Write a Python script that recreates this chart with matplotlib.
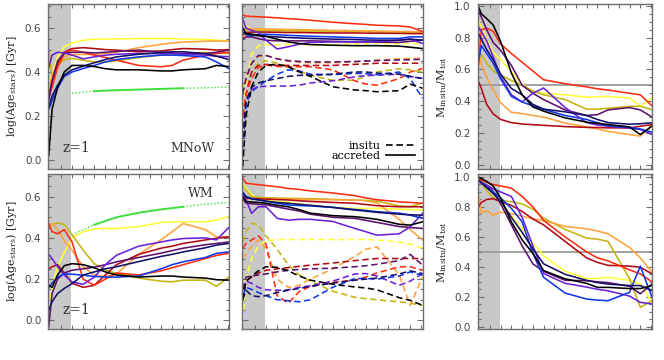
import matplotlib
matplotlib.use('Agg')
import matplotlib.pyplot as plt
from matplotlib.ticker import MultipleLocator, NullFormatter, FixedLocator
from matplotlib.lines import Line2D

# ---------------- data ----------------
time_gyr = [4.95, 5.1, 5.35, 5.65, 6.0, 6.5, 7.0, 7.5, 8.0, 9.0, 10.0, 10.5, 11.0, 12.0, 12.5, 13.05]
z1_time = 5.97
xlim = (4.93, 13.06)

green_time = [6.0, 6.5, 7.0, 8.0, 9.0, 10.0, 11.0, 12.0, 13.05]
green_top = [0.303, 0.308, 0.313, 0.317, 0.32, 0.323, 0.326, 0.328, 0.331]
green_bot = [0.415, 0.44, 0.464, 0.50, 0.522, 0.538, 0.551, 0.563, 0.572]

colors = {
    'black': '#000000', 'navy': '#14106a', 'blue': '#1238e6', 'violet': '#6a22d8',
    'purple': '#5c106e', 'darkred': '#b00a14', 'red': '#ff2c10', 'orange': '#ffa23c',
    'olive': '#c4b410', 'yellow': '#ffff38',
}
draw_order = ['yellow', 'olive', 'orange', 'darkred', 'red', 'purple', 'violet', 'blue', 'navy', 'black']

# top row: MNoW
age_all_top = {
    'black':   [0.02, 0.23, 0.33, 0.40, 0.43, 0.43, 0.425, 0.415, 0.41, 0.41, 0.405, 0.405, 0.41, 0.415, 0.43, 0.425],
    'yellow':  [0.355, 0.39, 0.47, 0.515, 0.532, 0.545, 0.549, 0.55, 0.551, 0.552, 0.552, 0.552, 0.55, 0.548, 0.545, 0.542],
    'orange':  [0.33, 0.38, 0.44, 0.47, 0.48, 0.48, 0.48, 0.484, 0.49, 0.511, 0.526, 0.532, 0.537, 0.54, 0.541, 0.541],
    'red':     [0.29, 0.33, 0.42, 0.485, 0.50, 0.49, 0.477, 0.466, 0.454, 0.43, 0.424, 0.43, 0.454, 0.477, 0.484, 0.49],
    'darkred': [0.30, 0.35, 0.44, 0.49, 0.507, 0.511, 0.507, 0.502, 0.50, 0.492, 0.496, 0.502, 0.507, 0.504, 0.50, 0.502],
    'purple':  [0.27, 0.36, 0.45, 0.485, 0.49, 0.49, 0.487, 0.49, 0.494, 0.50, 0.49, 0.487, 0.484, 0.484, 0.49, 0.50],
    'violet':  [0.42, 0.477, 0.49, 0.487, 0.477, 0.46, 0.469, 0.477, 0.481, 0.484, 0.484, 0.484, 0.481, 0.477, 0.472, 0.47],
    'olive':   [0.50, 0.38, 0.43, 0.457, 0.462, 0.454, 0.446, 0.446, 0.451, 0.466, 0.477, 0.481, 0.484, 0.489, 0.487, 0.484],
    'blue':    [0.23, 0.27, 0.326, 0.38, 0.40, 0.416, 0.43, 0.446, 0.457, 0.469, 0.477, 0.477, 0.475, 0.469, 0.446, 0.416],
    'navy':    [0.24, 0.29, 0.34, 0.386, 0.41, 0.427, 0.442, 0.457, 0.469, 0.481, 0.489, 0.492, 0.492, 0.484, 0.472, 0.457],
}
age_acc_top = {
    'red':     [0.66, 0.655, 0.653, 0.652, 0.65, 0.647, 0.643, 0.64, 0.636, 0.627, 0.62, 0.617, 0.613, 0.61, 0.605, 0.585],
    'orange':  [0.55, 0.59, 0.597, 0.597, 0.596, 0.595, 0.594, 0.593, 0.592, 0.59, 0.588, 0.587, 0.586, 0.585, 0.584, 0.582],
    'yellow':  [0.62, 0.61, 0.595, 0.592, 0.591, 0.59, 0.59, 0.589, 0.589, 0.588, 0.586, 0.585, 0.584, 0.582, 0.578, 0.574],
    'olive':   [0.58, 0.60, 0.594, 0.59, 0.589, 0.588, 0.588, 0.587, 0.587, 0.586, 0.585, 0.585, 0.584, 0.583, 0.58, 0.578],
    'darkred': [0.57, 0.58, 0.582, 0.582, 0.582, 0.581, 0.58, 0.58, 0.579, 0.578, 0.578, 0.577, 0.577, 0.576, 0.575, 0.575],
    'blue':    [0.60, 0.57, 0.565, 0.57, 0.572, 0.57, 0.567, 0.565, 0.563, 0.56, 0.557, 0.555, 0.553, 0.553, 0.56, 0.56],
    'navy':    [0.58, 0.575, 0.57, 0.565, 0.563, 0.56, 0.557, 0.555, 0.553, 0.55, 0.548, 0.546, 0.545, 0.545, 0.55, 0.545],
    'violet':  [0.64, 0.60, 0.59, 0.58, 0.545, 0.505, 0.515, 0.527, 0.535, 0.537, 0.537, 0.537, 0.537, 0.545, 0.55, 0.53],
    'purple':  [0.55, 0.56, 0.56, 0.552, 0.545, 0.542, 0.542, 0.542, 0.542, 0.54, 0.537, 0.537, 0.536, 0.535, 0.54, 0.545],
    'black':   [0.60, 0.575, 0.572, 0.568, 0.562, 0.55, 0.537, 0.53, 0.525, 0.522, 0.52, 0.52, 0.52, 0.518, 0.513, 0.507],
}
age_ins_top = {
    'black':   [-0.03, 0.20, 0.333, 0.40, 0.43, 0.436, 0.424, 0.40, 0.38, 0.333, 0.318, 0.315, 0.31, 0.315, 0.345, 0.326],
    'red':     [0.20, 0.30, 0.37, 0.42, 0.432, 0.425, 0.424, 0.424, 0.424, 0.41, 0.36, 0.345, 0.34, 0.37, 0.40, 0.416],
    'orange':  [0.30, 0.38, 0.44, 0.47, 0.477, 0.46, 0.448, 0.444, 0.442, 0.442, 0.446, 0.45, 0.455, 0.46, 0.462, 0.462],
    'purple':  [0.30, 0.37, 0.44, 0.475, 0.475, 0.46, 0.452, 0.448, 0.446, 0.446, 0.448, 0.45, 0.452, 0.455, 0.456, 0.458],
    'olive':   [0.20, 0.30, 0.40, 0.44, 0.452, 0.44, 0.424, 0.405, 0.385, 0.362, 0.363, 0.38, 0.40, 0.415, 0.41, 0.40],
    'yellow':  [0.20, 0.35, 0.48, 0.52, 0.525, 0.525, 0.525, 0.525, 0.525, 0.525, 0.528, 0.528, 0.53, 0.53, 0.53, 0.53],
    'blue':    [0.10, 0.27, 0.31, 0.335, 0.36, 0.39, 0.41, 0.405, 0.39, 0.388, 0.394, 0.392, 0.388, 0.40, 0.37, 0.28],
    'violet':  [0.05, 0.25, 0.32, 0.333, 0.335, 0.336, 0.336, 0.34, 0.35, 0.36, 0.378, 0.383, 0.386, 0.39, 0.38, 0.371],
    'navy':    [0.10, 0.27, 0.33, 0.35, 0.36, 0.37, 0.38, 0.385, 0.385, 0.39, 0.40, 0.40, 0.395, 0.39, 0.38, 0.37],
    'darkred': [0.20, 0.30, 0.40, 0.43, 0.435, 0.43, 0.43, 0.43, 0.43, 0.43, 0.435, 0.437, 0.44, 0.44, 0.44, 0.44],
}
frac_top = {
    'black':   [1.0, 0.95, 0.92, 0.88, 0.775, 0.577, 0.44, 0.364, 0.337, 0.295, 0.268, 0.26, 0.253, 0.238, 0.19, 0.243],
    'red':     [0.60, 0.85, 0.86, 0.84, 0.76, 0.70, 0.645, 0.59, 0.535, 0.51, 0.49, 0.478, 0.47, 0.45, 0.44, 0.37],
    'darkred': [0.53, 0.48, 0.38, 0.32, 0.285, 0.265, 0.256, 0.252, 0.248, 0.24, 0.235, 0.234, 0.232, 0.232, 0.242, 0.253],
    'orange':  [0.72, 0.63, 0.55, 0.47, 0.39, 0.33, 0.322, 0.31, 0.30, 0.262, 0.238, 0.225, 0.21, 0.19, 0.18, 0.25],
    'yellow':  [0.91, 0.87, 0.79, 0.71, 0.66, 0.585, 0.505, 0.462, 0.45, 0.44, 0.425, 0.428, 0.43, 0.42, 0.37, 0.42],
    'olive':   [0.64, 0.69, 0.64, 0.59, 0.565, 0.53, 0.50, 0.465, 0.44, 0.41, 0.35, 0.35, 0.355, 0.368, 0.368, 0.347],
    'purple':  [0.975, 0.93, 0.85, 0.77, 0.72, 0.625, 0.50, 0.45, 0.41, 0.345, 0.31, 0.315, 0.345, 0.36, 0.345, 0.30],
    'violet':  [0.87, 0.84, 0.78, 0.68, 0.555, 0.44, 0.395, 0.45, 0.483, 0.36, 0.265, 0.25, 0.243, 0.23, 0.222, 0.19],
    'blue':    [0.64, 0.75, 0.70, 0.64, 0.54, 0.43, 0.395, 0.37, 0.348, 0.31, 0.285, 0.265, 0.245, 0.235, 0.225, 0.205],
    'navy':    [0.83, 0.79, 0.724, 0.66, 0.57, 0.48, 0.44, 0.38, 0.35, 0.333, 0.31, 0.285, 0.265, 0.255, 0.258, 0.264],
}

# bottom row: WM
age_all_bot = {
    'yellow':  [0.05, 0.15, 0.26, 0.33, 0.40, 0.43, 0.443, 0.446, 0.446, 0.455, 0.475, 0.478, 0.478, 0.478, 0.487, 0.503],
    'orange':  [0.45, 0.47, 0.44, 0.385, 0.34, 0.26, 0.22, 0.212, 0.225, 0.32, 0.39, 0.43, 0.47, 0.44, 0.405, 0.405],
    'olive':   [0.45, 0.465, 0.472, 0.465, 0.415, 0.34, 0.275, 0.245, 0.227, 0.205, 0.19, 0.187, 0.195, 0.195, 0.165, 0.21],
    'red':     [0.47, 0.43, 0.42, 0.44, 0.38, 0.20, 0.17, 0.20, 0.23, 0.22, 0.24, 0.255, 0.27, 0.30, 0.315, 0.325],
    'darkred': [0.25, 0.26, 0.27, 0.23, 0.18, 0.16, 0.17, 0.22, 0.27, 0.32, 0.35, 0.36, 0.373, 0.39, 0.398, 0.405],
    'violet':  [0.32, 0.30, 0.26, 0.22, 0.186, 0.175, 0.21, 0.27, 0.316, 0.36, 0.38, 0.39, 0.397, 0.40, 0.39, 0.45],
    'purple':  [-0.03, 0.13, 0.20, 0.23, 0.243, 0.25, 0.258, 0.27, 0.284, 0.305, 0.326, 0.338, 0.35, 0.367, 0.373, 0.38],
    'black':   [0.17, 0.16, 0.22, 0.265, 0.275, 0.27, 0.255, 0.235, 0.22, 0.21, 0.215, 0.215, 0.21, 0.205, 0.197, 0.195],
    'blue':    [0.16, 0.18, 0.21, 0.225, 0.224, 0.219, 0.213, 0.21, 0.21, 0.215, 0.25, 0.27, 0.284, 0.305, 0.325, 0.332],
    'navy':    [0.05, 0.09, 0.13, 0.155, 0.178, 0.22, 0.235, 0.25, 0.26, 0.285, 0.31, 0.32, 0.332, 0.352, 0.365, 0.373],
}
age_acc_bot = {
    'red':     [0.69, 0.665, 0.662, 0.658, 0.654, 0.648, 0.64, 0.635, 0.628, 0.618, 0.605, 0.594, 0.585, 0.575, 0.572, 0.568],
    'orange':  [0.60, 0.592, 0.591, 0.59, 0.59, 0.589, 0.588, 0.587, 0.586, 0.585, 0.584, 0.58, 0.57, 0.49, 0.44, 0.39],
    'olive':   [0.65, 0.632, 0.60, 0.597, 0.595, 0.593, 0.592, 0.591, 0.59, 0.587, 0.584, 0.582, 0.578, 0.555, 0.552, 0.568],
    'yellow':  [0.66, 0.64, 0.61, 0.59, 0.583, 0.577, 0.573, 0.565, 0.558, 0.548, 0.543, 0.543, 0.543, 0.54, 0.538, 0.535],
    'darkred': [0.60, 0.592, 0.591, 0.59, 0.588, 0.586, 0.584, 0.58, 0.577, 0.572, 0.568, 0.562, 0.556, 0.551, 0.551, 0.551],
    'blue':    [0.62, 0.60, 0.59, 0.585, 0.578, 0.568, 0.56, 0.557, 0.555, 0.548, 0.538, 0.533, 0.527, 0.52, 0.51, 0.495],
    'navy':    [0.62, 0.60, 0.59, 0.585, 0.578, 0.572, 0.568, 0.563, 0.558, 0.548, 0.535, 0.53, 0.524, 0.515, 0.512, 0.51],
    'black':   [0.60, 0.576, 0.574, 0.572, 0.568, 0.558, 0.551, 0.537, 0.52, 0.508, 0.503, 0.497, 0.49, 0.466, 0.462, 0.478],
    'purple':  [0.59, 0.568, 0.566, 0.563, 0.56, 0.55, 0.54, 0.53, 0.515, 0.50, 0.495, 0.485, 0.475, 0.455, 0.45, 0.446],
    'violet':  [0.62, 0.584, 0.519, 0.551, 0.551, 0.495, 0.486, 0.49, 0.49, 0.48, 0.446, 0.43, 0.413, 0.42, 0.454, 0.519],
}
age_ins_bot = {
    'yellow':  [0.0, 0.20, 0.30, 0.36, 0.385, 0.392, 0.392, 0.392, 0.392, 0.392, 0.392, 0.392, 0.39, 0.38, 0.37, 0.35],
    'olive':   [0.38, 0.43, 0.47, 0.465, 0.41, 0.345, 0.27, 0.22, 0.19, 0.142, 0.112, 0.105, 0.10, 0.09, 0.083, 0.073],
    'orange':  [0.30, 0.324, 0.36, 0.39, 0.35, 0.20, 0.16, 0.17, 0.20, 0.25, 0.31, 0.345, 0.357, 0.22, 0.073, 0.21],
    'red':     [0.35, 0.373, 0.39, 0.41, 0.37, 0.12, 0.083, 0.14, 0.165, 0.185, 0.195, 0.21, 0.23, 0.26, 0.26, 0.243],
    'darkred': [0.15, 0.19, 0.21, 0.23, 0.243, 0.25, 0.256, 0.262, 0.268, 0.278, 0.29, 0.295, 0.30, 0.30, 0.30, 0.30],
    'purple':  [0.15, 0.21, 0.215, 0.22, 0.225, 0.235, 0.243, 0.247, 0.25, 0.253, 0.26, 0.265, 0.272, 0.29, 0.32, 0.268],
    'black':   [0.10, 0.19, 0.215, 0.24, 0.26, 0.257, 0.24, 0.215, 0.195, 0.175, 0.162, 0.157, 0.148, 0.11, 0.097, 0.073],
    'blue':    [0.12, 0.16, 0.15, 0.135, 0.12, 0.10, 0.095, 0.09, 0.10, 0.16, 0.203, 0.203, 0.20, 0.215, 0.235, 0.219],
    'violet':  [0.10, 0.19, 0.18, 0.16, 0.148, 0.146, 0.148, 0.16, 0.168, 0.19, 0.225, 0.227, 0.215, 0.17, 0.19, 0.227],
    'navy':    [0.10, 0.146, 0.12, 0.115, 0.12, 0.135, 0.146, 0.155, 0.165, 0.18, 0.195, 0.20, 0.205, 0.225, 0.24, 0.227],
}
frac_bot = {
    'black':   [1.0, 0.99, 0.97, 0.94, 0.86, 0.70, 0.58, 0.49, 0.375, 0.32, 0.29, 0.263, 0.263, 0.255, 0.255, 0.275],
    'red':     [0.99, 0.98, 0.965, 0.95, 0.94, 0.925, 0.87, 0.80, 0.71, 0.60, 0.50, 0.46, 0.44, 0.38, 0.353, 0.30],
    'darkred': [0.80, 0.83, 0.85, 0.855, 0.835, 0.81, 0.77, 0.72, 0.68, 0.57, 0.46, 0.43, 0.41, 0.405, 0.397, 0.353],
    'orange':  [0.90, 0.76, 0.775, 0.745, 0.765, 0.755, 0.74, 0.72, 0.71, 0.67, 0.654, 0.64, 0.62, 0.53, 0.46, 0.364],
    'olive':   [1.0, 0.96, 0.91, 0.86, 0.843, 0.835, 0.82, 0.785, 0.725, 0.65, 0.592, 0.585, 0.57, 0.32, 0.13, 0.174],
    'yellow':  [1.0, 0.98, 0.94, 0.895, 0.82, 0.74, 0.655, 0.56, 0.475, 0.37, 0.322, 0.322, 0.33, 0.31, 0.285, 0.163],
    'purple':  [0.98, 0.965, 0.945, 0.90, 0.82, 0.68, 0.54, 0.42, 0.37, 0.31, 0.308, 0.30, 0.295, 0.27, 0.22, 0.286],
    'violet':  [0.98, 0.965, 0.945, 0.92, 0.90, 0.87, 0.73, 0.54, 0.355, 0.29, 0.265, 0.25, 0.24, 0.205, 0.163, 0.152],
    'blue':    [0.98, 0.96, 0.93, 0.90, 0.86, 0.79, 0.70, 0.49, 0.33, 0.225, 0.185, 0.178, 0.174, 0.23, 0.405, 0.196],
    'navy':    [0.98, 0.96, 0.93, 0.89, 0.84, 0.73, 0.63, 0.52, 0.42, 0.35, 0.31, 0.295, 0.285, 0.275, 0.275, 0.241],
}

age_ticks = [0.0, 0.2, 0.4, 0.6]
frac_ticks = [0.0, 0.2, 0.4, 0.6, 0.8, 1.0]

# ---------------- figure ----------------
plt.rcParams['mathtext.fontset'] = 'dejavuserif'
SERIF = 'DejaVu Serif'
FRAME = '#6e6e6e'
TICKLAB = '#444444'
LW = 1.15
DASH = (4, 2.2)

fig = plt.figure(figsize=(6.64, 3.6), dpi=100)
colx = [0.0727, 0.3649, 0.7194]
colw = [0.2721, 0.2717, 0.2630]
rows = [(0.5306, 0.4583), (0.0861, 0.4306)]

age_ylim = (-0.042, 0.71)
frac_ylims = [(-0.027, 1.012), (-0.015, 1.02)]


def style(ax, ylim, yticks, labels):
    ax.set_xlim(*xlim)
    ax.set_ylim(*ylim)
    ax.axvspan(xlim[0], z1_time, color='#c8c8c8', lw=0, zorder=0)
    ax.xaxis.set_major_locator(FixedLocator([5.5 + 0.5 * i for i in range(16)]))
    ax.xaxis.set_major_formatter(NullFormatter())
    ax.yaxis.set_major_locator(FixedLocator(yticks))
    ax.yaxis.set_minor_locator(MultipleLocator(0.05))
    if not labels:
        ax.yaxis.set_major_formatter(NullFormatter())
    ax.tick_params(which='both', direction='in', top=True, right=True, color=FRAME,
                   labelcolor=TICKLAB, labelsize=7.5, width=0.8, pad=5)
    ax.tick_params(which='major', length=4)
    ax.tick_params(which='minor', length=2)
    ax.tick_params(axis='x', which='major', length=3)
    for s in ax.spines.values():
        s.set_color(FRAME)
        s.set_linewidth(1.0)


def plot_set(ax, data, dashed=False):
    for key in draw_order:
        if key not in data:
            continue
        if dashed:
            ax.plot(time_gyr, data[key], color=colors[key], lw=LW, ls='--', dashes=DASH)
        else:
            ax.plot(time_gyr, data[key], color=colors[key], lw=LW, ls='-')


def plot_green(ax, ys):
    i0 = green_time.index(7.0)
    i1 = green_time.index(11.0)
    ax.plot(green_time[:i0 + 1], ys[:i0 + 1], color='#3ee03e', lw=1.0, ls=(0, (1, 1.5)))
    ax.plot(green_time[i0:i1 + 1], ys[i0:i1 + 1], color='#3ee03e', lw=1.4, ls='-')
    ax.plot(green_time[i1:], ys[i1:], color='#3ee03e', lw=1.0, ls=(0, (1, 1.5)))


panels = [
    (age_all_top, age_ins_top, age_acc_top, frac_top, green_top),
    (age_all_bot, age_ins_bot, age_acc_bot, frac_bot, green_bot),
]

for r, (all_d, ins_d, acc_d, frac_d, green_y) in enumerate(panels):
    y0, h = rows[r]
    axL = fig.add_axes([colx[0], y0, colw[0], h])
    axM = fig.add_axes([colx[1], y0, colw[1], h])
    axR = fig.add_axes([colx[2], y0, colw[2], h])

    style(axL, age_ylim, age_ticks, True)
    style(axM, age_ylim, age_ticks, False)
    style(axR, frac_ylims[r], frac_ticks, True)

    plot_green(axL, green_y)
    plot_set(axL, all_d)
    plot_set(axM, ins_d, dashed=True)
    plot_set(axM, acc_d)
    axR.axhline(0.5, color='#9a9a9a', lw=1.3, zorder=1)
    plot_set(axR, frac_d)

    axL.set_ylabel(r'log(Age$_{\rm stars}$) [Gyr]', fontsize=8, family=SERIF, color='#222222')
    axL.yaxis.set_label_coords(-0.16, 0.5)
    axR.set_ylabel(r'M$_{\rm insitu}$/M$_{\rm tot}$', fontsize=8, family=SERIF, color='#222222')
    axR.yaxis.set_label_coords(-0.165, 0.5)
    for lab in axL.get_yticklabels() + axR.get_yticklabels():
        lab.set_family('DejaVu Sans')

    axL.text(0.155, 0.125, 'z=1', transform=axL.transAxes, ha='center', va='center',
             fontsize=10, family=SERIF, color='#333333')
    if r == 0:
        axL.text(0.80, 0.125, 'MNoW', transform=axL.transAxes, ha='center', va='center',
                 fontsize=9, family=SERIF, color='#333333')
        handles = [Line2D([], [], color='k', lw=1.2, ls='--', dashes=DASH),
                   Line2D([], [], color='k', lw=1.2, ls='-')]
        axM.legend(handles, ['insitu', 'accreted'], loc='lower right', frameon=False,
                   markerfirst=False, handlelength=2.6, handletextpad=0.5,
                   labelspacing=0.0, borderaxespad=0.3,
                   prop={'family': SERIF, 'size': 8})
    else:
        axL.text(0.845, 0.875, 'WM', transform=axL.transAxes, ha='center', va='center',
                 fontsize=9, family=SERIF, color='#333333')

fig.savefig('out.png', dpi=100)
